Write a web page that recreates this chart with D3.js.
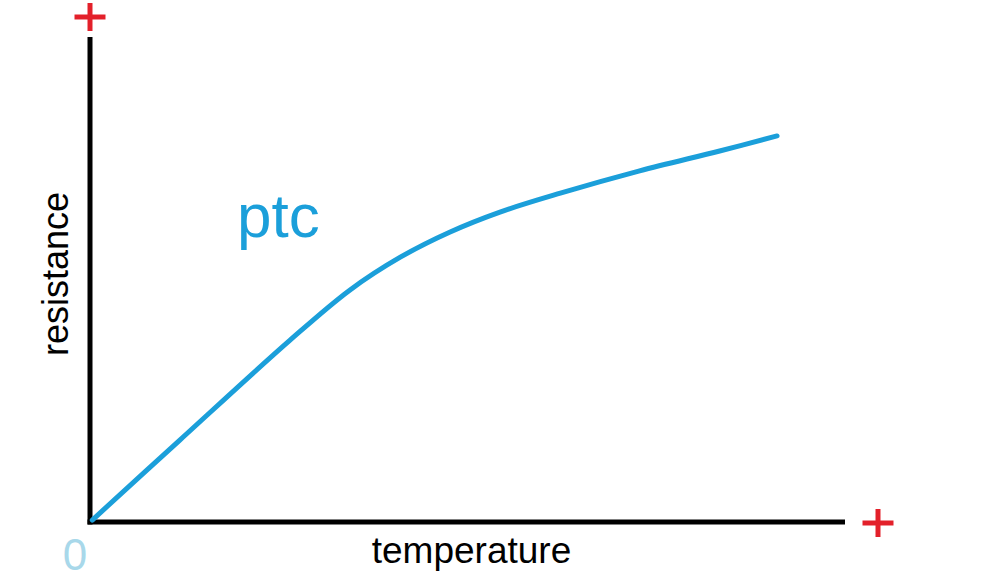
<!DOCTYPE html>
<html>
<head>
<meta charset="utf-8">
<script src="https://cdn.jsdelivr.net/npm/d3@7"></script>
<style>
  body { margin: 0; background: #fff; }
  svg { display: block; font-family: "Liberation Sans", Arial, sans-serif; }
</style>
</head>
<body>
<svg id="chart"></svg>
<script>
// ptc curve (temperature / resistance in 0..100 units)
var temperature = [0.3, 11.9, 26.5, 34.4, 41.1, 47.7, 54.3, 62.3, 72.8, 83.4, 91.0];
var resistance  = [0.4, 16.9, 37.5, 47.8, 54.6, 59.8, 63.9, 67.8, 72.4, 76.5, 79.6];
var seriesLabel = "ptc";
var xLabel = "temperature";
var yLabel = "resistance";
var originLabel = "0";

var width = 986, height = 580;
var margin = {top: 37, right: 141, bottom: 58, left: 90};

var svg = d3.select("svg#chart")
    .attr("width", width)
    .attr("height", height);

var x = d3.scaleLinear()
    .domain([0, 100])
    .range([margin.left, width - margin.right]);

var y = d3.scaleLinear()
    .domain([0, 100])
    .range([height - margin.bottom, margin.top]);

var data = temperature.map(function(t, i) { return {t: t, r: resistance[i]}; });

// axes, drawn as plain thick lines
svg.append("line")
    .attr("x1", x(0)).attr("x2", x(0))
    .attr("y1", y(0) + 2.5).attr("y2", y(100))
    .attr("stroke", "#000")
    .attr("stroke-width", 5);

svg.append("line")
    .attr("x1", x(0) - 2.5).attr("x2", x(100))
    .attr("y1", y(0)).attr("y2", y(0))
    .attr("stroke", "#000")
    .attr("stroke-width", 5);

// the curve
var line = d3.line()
    .x(function(d) { return x(d.t); })
    .y(function(d) { return y(d.r); })
    .curve(d3.curveCatmullRom.alpha(0.5));

svg.append("path")
    .datum(data)
    .attr("d", line)
    .attr("fill", "none")
    .attr("stroke", "#1b9fda")
    .attr("stroke-width", 5)
    .attr("stroke-linecap", "round");

// red plus signs at the axis ends
var red = "#e3202a";
function plus(cx, cy) {
    svg.append("line")
        .attr("x1", cx - 15.5).attr("x2", cx + 15.5)
        .attr("y1", cy).attr("y2", cy)
        .attr("stroke", red).attr("stroke-width", 5);
    svg.append("line")
        .attr("x1", cx).attr("x2", cx)
        .attr("y1", cy - 14).attr("y2", cy + 14)
        .attr("stroke", red).attr("stroke-width", 5);
}
plus(x(0), y(100) - 20);
plus(x(100) + 33, y(0) + 1);

// labels
svg.append("text")
    .attr("x", x(0) - 15)
    .attr("y", 570)
    .attr("text-anchor", "middle")
    .style("font-size", "44px")
    .attr("fill", "#a8d8ea")
    .text(originLabel);

svg.append("text")
    .attr("x", 471.5)
    .attr("y", 563)
    .attr("text-anchor", "middle")
    .style("font-size", "37px")
    .attr("fill", "#000")
    .text(xLabel);

svg.append("text")
    .attr("transform", "translate(68," + 274 + ") rotate(-90)")
    .attr("text-anchor", "middle")
    .style("font-size", "36px")
    .attr("fill", "#000")
    .text(yLabel);

svg.append("text")
    .attr("x", 237)
    .attr("y", 237)
    .style("font-size", "62px")
    .attr("fill", "#1b9fda")
    .text(seriesLabel);
</script>
</body>
</html>
